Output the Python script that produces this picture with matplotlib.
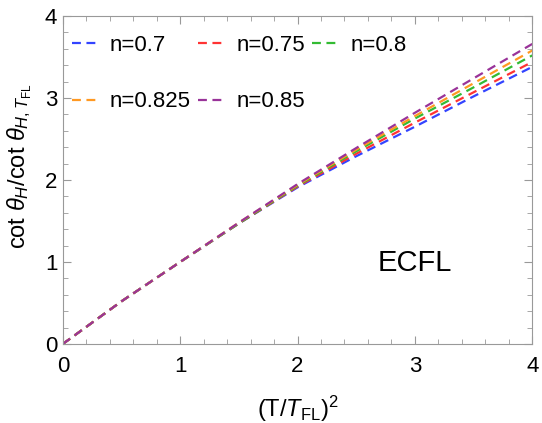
import matplotlib
matplotlib.use('Agg')
import matplotlib.pyplot as plt
from matplotlib.ticker import MultipleLocator

plt.rcParams['font.family'] = ['Liberation Sans', 'DejaVu Sans']
plt.rcParams['mathtext.fontset'] = 'custom'
plt.rcParams['mathtext.rm'] = 'Liberation Sans'
plt.rcParams['mathtext.it'] = 'Liberation Sans:italic'

# (T/T_FL)^2
x = [0, 0.5, 1.0, 1.5, 2.0, 2.5, 3.0, 3.5, 4.0]
labels = ['n=0.7', 'n=0.75', 'n=0.8', 'n=0.825', 'n=0.85']
y_07 = [0, 0.52, 1.0, 1.47, 1.91, 2.29, 2.65, 3.02, 3.38]
y_075 = [0, 0.52, 1.0, 1.47, 1.92, 2.32, 2.70, 3.07, 3.44]
y_08 = [0, 0.52, 1.0, 1.47, 1.93, 2.35, 2.75, 3.13, 3.52]
y_0825 = [0, 0.52, 1.0, 1.48, 1.94, 2.37, 2.78, 3.18, 3.58]
y_085 = [0, 0.52, 1.0, 1.48, 1.95, 2.39, 2.82, 3.24, 3.66]
series = [y_07, y_075, y_08, y_0825, y_085]
colors = ['#3344ff', '#ff3333', '#33bb33', '#ff9922', '#993399']

fig = plt.figure(figsize=(5.42, 4.23), dpi=100)
ax = fig.add_axes([0.116, 0.187, 0.866, 0.775])

lines = []
for ys, c, lab in zip(series, colors, labels):
    ln, = ax.plot(x, ys, color=c, lw=1.6, ls=(0, (4, 2.5)), label=lab)
    lines.append(ln)

ax.set_xlim(0, 4)
ax.set_ylim(0, 4)
ax.xaxis.set_major_locator(MultipleLocator(1))
ax.yaxis.set_major_locator(MultipleLocator(1))
ax.xaxis.set_minor_locator(MultipleLocator(0.2))
ax.yaxis.set_minor_locator(MultipleLocator(0.2))
ax.tick_params(which='both', direction='in', top=True, right=True, color='#999999',
               labelsize=16)
ax.tick_params(axis='x', which='major', pad=9)
ax.tick_params(axis='y', which='major', pad=4)
ax.tick_params(which='major', length=6)
ax.tick_params(which='minor', length=3.5)
for s in ax.spines.values():
    s.set_color('#999999')

ax.set_xlabel(r'(T/$T_{\mathrm{FL}}$)$^2$', fontsize=17, labelpad=12)
ax.set_ylabel(r'cot $\theta_H$/cot $\theta_{H,T_{\mathrm{FL}}}$', fontsize=17)
ax.yaxis.set_label_coords(-0.062, 0.543)

order = [0, 3, 1, 4, 2]
ax.legend([lines[i] for i in order], [labels[i] for i in order], ncol=3, frameon=False,
          loc='upper left', bbox_to_anchor=(0.0, 0.970), borderaxespad=0, fontsize=16,
          handlelength=1.25, handletextpad=0.45, columnspacing=0.35, labelspacing=1.6)

ax.text(3.0, 0.99, 'ECFL', fontsize=21, ha='center', va='center')

fig.savefig('out.png', dpi=100)
